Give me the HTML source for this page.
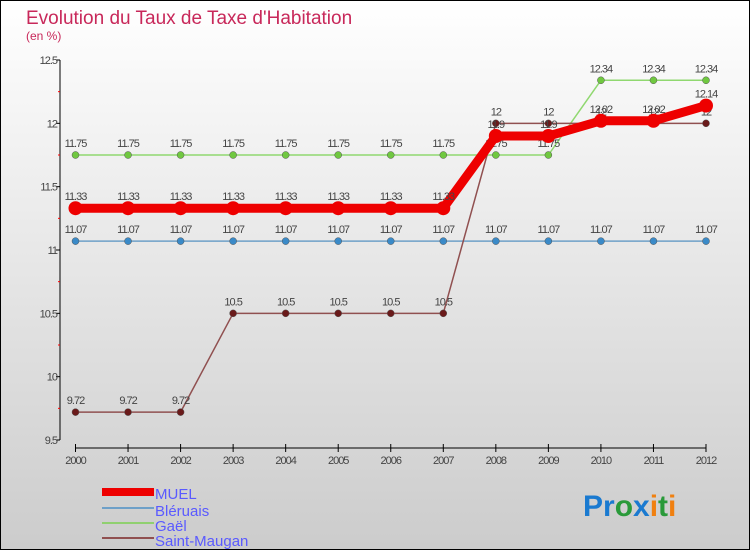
<!DOCTYPE html>
<html><head><meta charset="utf-8"><style>
body{margin:0}
svg{display:block;font-family:"Liberation Sans",sans-serif}
</style></head><body>
<svg width="750" height="550" viewBox="0 0 750 550">
<defs><linearGradient id="bg" x1="0" y1="0" x2="0" y2="1"><stop offset="0" stop-color="#ffffff"/><stop offset="1" stop-color="#cccccc"/></linearGradient></defs>
<rect x="0.5" y="0.5" width="749" height="549" fill="url(#bg)" stroke="#000"/>
<text x="26" y="24" font-size="19" fill="#c8285a">Evolution du Taux de Taxe d'Habitation</text>
<text x="26" y="40" font-size="12" fill="#c8285a">(en %)</text>
<g id="axes"></g>
<g id="series"></g>
<g>
<rect x="102" y="488" width="52" height="8" fill="#e00"/>
<text x="155" y="499" font-size="15" fill="#5a5aff">MUEL</text>
<line x1="102" y1="508" x2="154" y2="508" stroke="#6ea0c8" stroke-width="2"/>
<text x="155" y="516" font-size="15" fill="#5a5aff">Bléruais</text>
<line x1="102" y1="523" x2="154" y2="523" stroke="#90d070" stroke-width="2"/>
<text x="155" y="531" font-size="15" fill="#5a5aff">Gaël</text>
<line x1="102" y1="538" x2="154" y2="538" stroke="#905050" stroke-width="2"/>
<text x="155" y="546" font-size="15" fill="#5a5aff">Saint-Maugan</text>
</g>
<g font-size="30" font-weight="bold">
<text x="583" y="516"><tspan fill="#1a7ad0">Pr</tspan><tspan fill="#2a9a3a">o</tspan><tspan fill="#1a7ad0">x</tspan><tspan fill="#f08010">i</tspan><tspan fill="#2a9a3a">t</tspan><tspan fill="#f08010">i</tspan></text>
</g>
</svg>
<script>
const years=[2000,2001,2002,2003,2004,2005,2006,2007,2008,2009,2010,2011,2012];
const yTicks=[9.5,10,10.5,11,11.5,12,12.5];
const yTickLabels=["9.5","10","10.5","11","11.5","12","12.5"];
const muel=[11.33,11.33,11.33,11.33,11.33,11.33,11.33,11.33,11.9,11.9,12.02,12.02,12.14];
const bleruais=[11.07,11.07,11.07,11.07,11.07,11.07,11.07,11.07,11.07,11.07,11.07,11.07,11.07];
const gael=[11.75,11.75,11.75,11.75,11.75,11.75,11.75,11.75,11.75,11.75,12.34,12.34,12.34];
const saintMaugan=[9.72,9.72,9.72,10.5,10.5,10.5,10.5,10.5,12,12,12,12,12];
const NS="http://www.w3.org/2000/svg";
const xs=i=>75.5+i*(706-75.5)/12;
const ys=v=>60+(12.5-v)*(380/3);
function mk(t,a,p){const e=document.createElementNS(NS,t);for(const k in a)e.setAttribute(k,a[k]);p.appendChild(e);return e;}
const ax=document.getElementById('axes');
mk('line',{x1:60,y1:60,x2:60,y2:440,stroke:'#000'},ax);
mk('line',{x1:75.5,y1:448,x2:706,y2:448,stroke:'#000'},ax);
yTicks.forEach((v,i)=>{
 mk('line',{x1:56,y1:ys(v),x2:60,y2:ys(v),stroke:'#000'},ax);
 if(i<yTicks.length-1) mk('line',{x1:58,y1:ys(v+0.25),x2:60,y2:ys(v+0.25),stroke:'#f00'},ax);
 const t=mk('text',{x:57,y:ys(v)+4,'font-size':11,fill:'#444','text-anchor':'end','letter-spacing':'-1'},ax);
 
 
 t.textContent=yTickLabels[i];
});
years.forEach((y,i)=>{
 mk('line',{x1:xs(i),y1:444,x2:xs(i),y2:452,stroke:'#000'},ax);
 const t=mk('text',{x:xs(i),y:464,'font-size':11,fill:'#444','text-anchor':'middle','letter-spacing':'-1'},ax);
 
 
 t.textContent=y;
});
const sg=document.getElementById('series');
function draw(vals,name,color,lw,r,dot){
 const g=mk('g',{},sg);
 
 
 mk('polyline',{points:vals.map((v,i)=>xs(i)+','+ys(v)).join(' '),fill:'none',stroke:color,'stroke-width':lw,'stroke-linejoin':'round'},g);
 vals.forEach((v,i)=>{
  const c=mk('circle',{cx:xs(i),cy:ys(v),r:r,fill:dot,stroke:color==dot?'none':'#555','stroke-width':0.5},g);
  
  
  const t=mk('text',{x:xs(i),y:ys(v)-8,'font-size':11,fill:'#444','text-anchor':'middle','letter-spacing':'-1'},g);
  
  
  t.textContent=String(v);
 });
}
draw(gael,'gael','#90d870',1.5,3.5,'#70c840');
draw(bleruais,'bleruais','#6ea0c8',1.5,3.5,'#3a8ac8');
draw(saintMaugan,'saint-maugan','#905050',1.5,3.5,'#6a1a1a');
draw(muel,'muel','#ee0000',9,7,'#ee0000');
</script>
</body></html>
